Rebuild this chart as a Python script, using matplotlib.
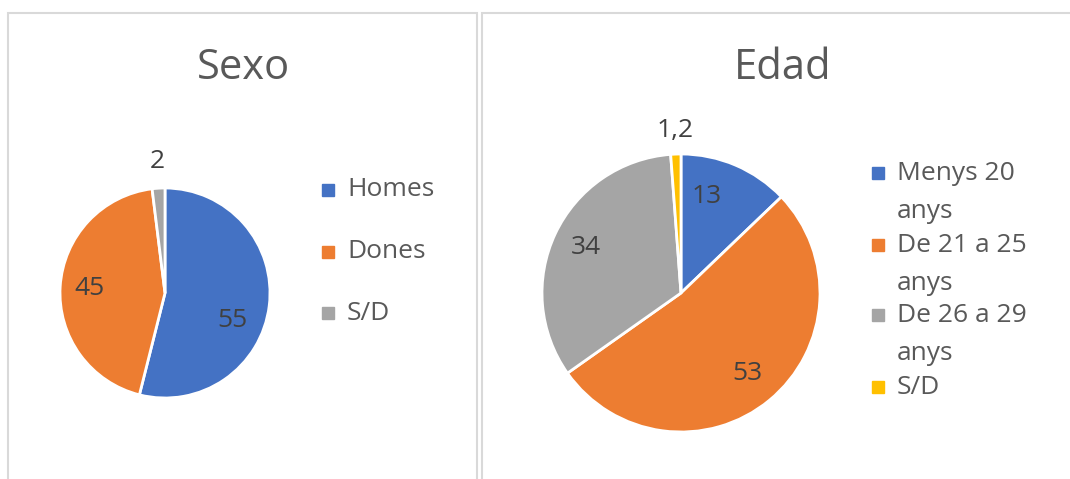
import matplotlib.pyplot as plt
from matplotlib.patches import Rectangle
import numpy as np

# data
sexo_labels = ["Homes", "Dones", "S/D"]
sexo_values = [55, 45, 2]
sexo_text = ["55", "45", "2"]

edad_labels = ["Menys 20\nanys", "De 21 a 25\nanys", "De 26 a 29\nanys", "S/D"]
edad_values = [13, 53, 34, 1.2]
edad_text = ["13", "53", "34", "1,2"]

sexo_colors = ["#4472C4", "#ED7D31", "#A5A5A5"]
edad_colors = ["#4472C4", "#ED7D31", "#A5A5A5", "#FFC000"]

plt.rcParams['font.family'] = ['Open Sans', 'DejaVu Sans']

W, H = 1070, 479
fig = plt.figure(figsize=(W / 100, H / 100), dpi=100)


def fx(x):
    return x / W


def fy(y):
    return 1 - y / H


def panel(x0, x1, y0):
    fig.patches.append(Rectangle((fx(x0), fy(H + 20)), fx(x1 - x0), fy(y0) - fy(H + 20),
                                 transform=fig.transFigure, fill=False,
                                 edgecolor="#D9D9D9", lw=1.5))


def draw_pie(cx, cy, r, values, colors, texts, label_r, label_shift):
    ax = fig.add_axes([fx(cx - r), fy(cy + r), fx(2 * r), (2 * r) / H])
    wedges, _ = ax.pie(values, colors=colors, startangle=90, counterclock=False,
                       wedgeprops=dict(edgecolor="white", linewidth=2))
    ax.set_xlim(-1, 1)
    ax.set_ylim(-1, 1)
    ax.set_aspect("equal")
    ax.axis("off")
    # Excel "best fit" labels: radius + small angle shift per slice
    for w, t, lr, sh in zip(wedges, texts, label_r, label_shift):
        ang = np.deg2rad((w.theta1 + w.theta2) / 2 + sh)
        ax.text(lr * np.cos(ang), lr * np.sin(ang), t, ha="center", va="center",
                fontsize=19, color="#404040", clip_on=False)
    return ax


def legend(x, ys, labels, colors, line_h=39):
    for y, lab, c in zip(ys, labels, colors):
        fig.patches.append(Rectangle((fx(x), fy(y + 6)), fx(12), 12 / H,
                                     transform=fig.transFigure, color=c))
        for j, line in enumerate(lab.split("\n")):
            fig.text(fx(x + 25), fy(y + j * line_h), line, ha="left", va="center",
                     fontsize=19, color="#595959")


panel(8, 477, 13)
panel(482, 1090, 13)

fig.text(fx(243), fy(68), "Sexo", ha="center", va="center", fontsize=30, color="#595959")
fig.text(fx(783), fy(68), "Edad", ha="center", va="center", fontsize=30, color="#595959")

draw_pie(165, 293, 105, sexo_values, sexo_colors, sexo_text,
         [0.69, 0.72, 1.25], [-15, 0, 0])
draw_pie(681, 293, 139, edad_values, edad_colors, edad_text,
         [0.72, 0.75, 0.76, 1.17], [8, 0, 0, 0])

legend(322, [190, 252, 313], sexo_labels, sexo_colors)
legend(872, [173, 245, 315, 387], edad_labels, edad_colors)

fig.savefig("out.png", dpi=100)
